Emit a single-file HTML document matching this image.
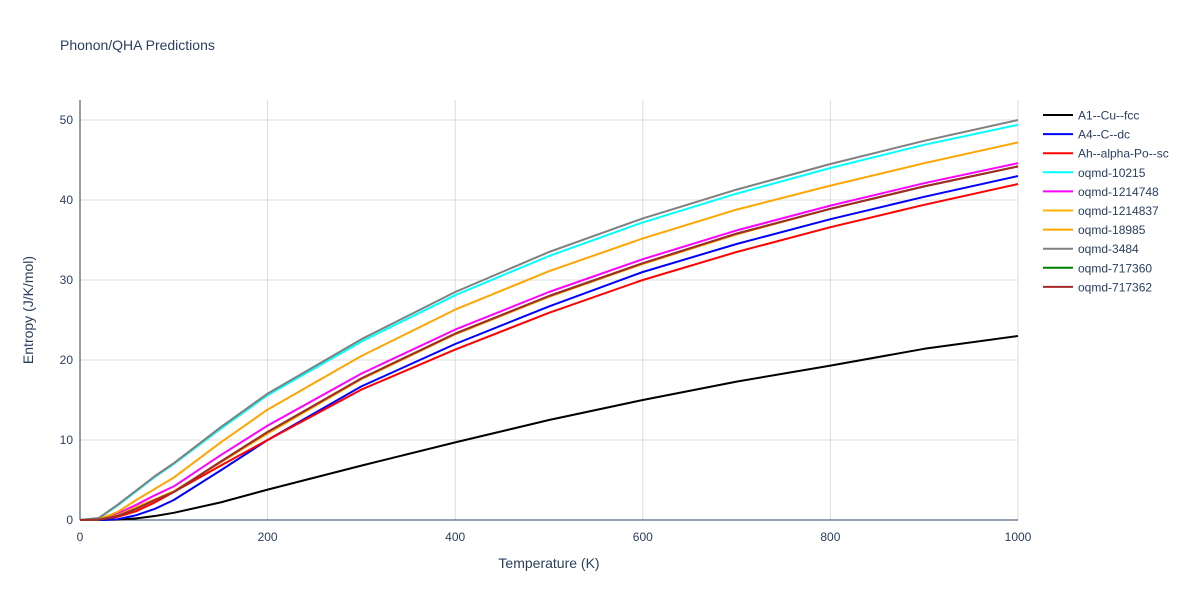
<!DOCTYPE html>
<html><head><meta charset="utf-8"><style>
body{margin:0;background:#fff;font-family:"Liberation Sans",sans-serif;}
svg text{font-family:"Liberation Sans",sans-serif;fill:#2a3f5f;}
</style></head><body>
<svg id="c" width="1200" height="600">
<text x="60" y="50" font-size="14">Phonon/QHA Predictions</text>
<g id="grid"></g><g id="axes"></g><g id="lines"></g><g id="legend"></g>
<text x="549" y="568" font-size="14" text-anchor="middle">Temperature (K)</text>
<text transform="translate(33,310) rotate(-90)" font-size="14" text-anchor="middle">Entropy (J/K/mol)</text>
</svg>
<script>
const temps=[0,20,40,60,80,100,150,200,300,400,500,600,700,800,900,1000];
const names=["A1--Cu--fcc","A4--C--dc","Ah--alpha-Po--sc","oqmd-10215","oqmd-1214748","oqmd-1214837","oqmd-18985","oqmd-3484","oqmd-717360","oqmd-717362"];
const colors=["#000000","#0000ff","#ff0000","#00ffff","#ff00ff","#ffb000","#ffa500","#808080","#008000","#a52a2a"];
const s0=[0,0,0.05,0.2,0.5,0.9,2.2,3.8,6.8,9.7,12.5,15,17.3,19.3,21.4,23];
const s1=[0,0,0.1,0.6,1.4,2.5,6.2,10,16.7,22,26.7,31,34.5,37.6,40.4,43];
const s2=[0,0.05,0.4,1.1,2.2,3.5,6.8,10,16.3,21.3,25.9,30,33.5,36.6,39.4,42];
const s3=[0,0.2,1.8,3.6,5.4,7,11.4,15.6,22.3,28.1,33,37.2,40.8,44,46.9,49.4];
const s4=[0,0.1,0.8,1.9,3.1,4.2,8.1,11.8,18.3,23.8,28.5,32.6,36.2,39.3,42.1,44.6];
const s5=[0,0.05,0.6,1.6,2.6,3.6,7.2,10.8,17.6,23.2,27.9,32,35.7,38.9,41.7,44.2];
const s6=[0,0.1,1,2.5,3.9,5.3,9.7,13.8,20.5,26.3,31.1,35.2,38.8,41.8,44.6,47.2];
const s7=[0,0.25,1.9,3.7,5.5,7.1,11.6,15.8,22.6,28.5,33.5,37.7,41.3,44.5,47.4,50];
const s8=[0,0.05,0.5,1.4,2.5,3.5,7.3,11,17.7,23.3,28,32.1,35.8,38.9,41.7,44.2];
const s9=[0,0.05,0.5,1.4,2.5,3.5,7.3,11,17.7,23.3,28,32.1,35.8,38.9,41.7,44.2];
const series=[s0,s1,s2,s3,s4,s5,s6,s7,s8,s9];
const xTicks=[0,200,400,600,800,1000];
const yTicks=[0,10,20,30,40,50];
const X=v=>80+v*(1018-80)/1000, Y=v=>520-v*8;
const NS="http://www.w3.org/2000/svg";
function mk(t,a,p){const e=document.createElementNS(NS,t);for(const k in a)e.setAttribute(k,a[k]);p.appendChild(e);return e;}
const g=document.getElementById('grid'),ax=document.getElementById('axes');
xTicks.forEach(t=>{
 if(t>0){const l=mk('line',{x1:X(t),x2:X(t),y1:100,y2:520,stroke:'#ddd'},g);
 
 }
 const tx=mk('text',{x:X(t),y:541,'font-size':12,'text-anchor':'middle'},ax);tx.textContent=t;
 
 
});
yTicks.forEach(t=>{
 if(t>0){const l=mk('line',{x1:80,x2:1018,y1:Y(t),y2:Y(t),stroke:'#ddd'},g);
 
 }
 const tx=mk('text',{x:73,y:Y(t)+4,'font-size':12,'text-anchor':'end'},ax);tx.textContent=t;
 
 
});
const xa=mk('line',{x1:80,x2:1018,y1:520,y2:520,stroke:'#2a3f5f'},ax);


const ya=mk('line',{x1:80,x2:80,y1:100,y2:520,stroke:'#2a3f5f'},ax);


const L=document.getElementById('lines'),lg=document.getElementById('legend');
series.forEach((s,i)=>{
 const d=s.map((v,j)=>(j?'L':'M')+X(temps[j]).toFixed(1)+','+Y(v).toFixed(1)).join('');
 const p=mk('path',{d:d,fill:'none',stroke:colors[i],'stroke-width':2,'stroke-linejoin':'round'},L);
 
 
 const yy=115+i*19.1;
 const ge=mk('g',{},lg);
 
 
 mk('line',{x1:1043,x2:1073,y1:yy,y2:yy,stroke:colors[i],'stroke-width':2},ge);
 const t=mk('text',{x:1078,y:yy+4.5,'font-size':12},ge);t.textContent=names[i];
});
</script>
</body></html>
